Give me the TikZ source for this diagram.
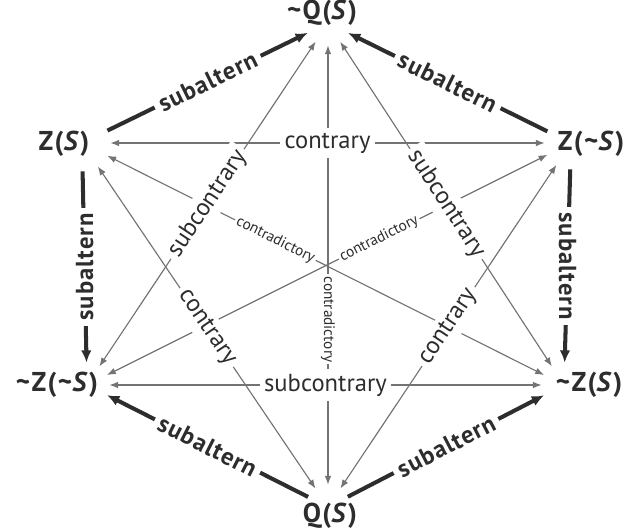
\documentclass[tikz,border=0pt]{standalone}
\usepackage{fontspec}
\setmainfont{PT Sans}
\newfontfamily\vertexfont[LetterSpace=5]{PT Sans}
\newfontfamily\subfont[LetterSpace=4]{PT Sans}
\usetikzlibrary{arrows.meta}
\definecolor{linegray}{RGB}{115,115,115}
\definecolor{inkgray}{RGB}{45,45,45}

\begin{document}
\begin{tikzpicture}[x=0.02cm,y=-0.02cm,
        vtx/.style={circle,inner sep=0pt,minimum size=0.88cm},
        vname/.style={inner sep=0pt,text=inkgray,font=\vertexfont\bfseries\fontsize{15.5}{18}\selectfont},
        rel/.style={draw=linegray,line width=0.65pt,{Latex[length=5pt,width=3.8pt]}-{Latex[length=5pt,width=3.8pt]}},
        sub/.style={draw=inkgray,line width=2.3pt,-{Latex[length=7pt,width=6pt]}},
        rlab/.style={fill=white,inner sep=2.5pt,text=inkgray,font=\fontsize{14}{16}\selectfont},
        clab/.style={fill=white,inner sep=1.2pt,text=inkgray,font=\fontsize{8.7}{10}\selectfont},
        slab/.style={fill=white,inner sep=3pt,text=inkgray,font=\subfont\bfseries\fontsize{14}{16}\selectfont}]
    \useasboundingbox (0,0) rectangle (629,531);
    % corners of the hexagon
    \node[vtx] (nq) at (328,23) {};
    \node[vtx,minimum size=1.12cm] (zs) at (82,143) {};
    \node[vtx,minimum size=1.04cm] (zns) at (571,143) {};
    \node[vtx] (nzns) at (87,385) {};
    \node[vtx] (nzs) at (564,385) {};
    \node[vtx] (qs) at (328,507) {};
    % names
    \node[vname] (tnq) at (322,13) {\textasciitilde Q(\textit{S})};
    \node[vname] (tzs) at (64,144) {Z(\textit{S})};
    \node[vname] (tzns) at (591,144) {Z(\textasciitilde\textit{S})};
    \node[vname] (tnzns) at (57,385) {\textasciitilde Z(\textasciitilde\textit{S})};
    \node[vname] (tnzs) at (589,385) {\textasciitilde Z(\textit{S})};
    \node[vname] (tqs) at (330,516) {Q(\textit{S})};
    % relations
    \foreach \a/\b in {zs/zns,zs/qs,zns/qs,nq/nzns,nq/nzs,nzns/nzs,nq/qs,zs/nzs,zns/nzns}
        \draw[rel] (\a) -- (\b);
    \foreach \a/\b in {zs/nq,zns/nq,zs/nzns,zns/nzs,qs/nzns,qs/nzs}
        \draw[sub] (\a) -- (\b);
    % labels
    \path (zs) -- (zns) node[midway,rlab] {contrary};
    \path (zs) -- (qs) node[midway,rlab,sloped] {contrary};
    \path (zns) -- (qs) node[midway,rlab,sloped] {contrary};
    \path (nq) -- (nzns) node[midway,rlab,sloped] {subcontrary};
    \path (nq) -- (nzs) node[midway,rlab,sloped] {subcontrary};
    \path (nzns) -- (nzs) node[midway,rlab] {subcontrary};
    \path (zs) -- (nzs) node[pos=0.385,clab,sloped] {contradictory};
    \path (zns) -- (nzns) node[pos=0.382,clab,sloped] {contradictory};
    \path (nq) -- (qs) node[pos=0.624,clab,rotate=-90] {contradictory};
    \path (zs) -- (nq) node[midway,slab,sloped] {subaltern};
    \path (zns) -- (nq) node[midway,slab,sloped] {subaltern};
    \path (zs) -- (nzns) node[midway,slab,rotate=90] {subaltern};
    \path (zns) -- (nzs) node[midway,slab,rotate=-90] {subaltern};
    \path (qs) -- (nzns) node[midway,slab,sloped] {subaltern};
    \path (qs) -- (nzs) node[midway,slab,sloped] {subaltern};
\end{tikzpicture}
\end{document}
